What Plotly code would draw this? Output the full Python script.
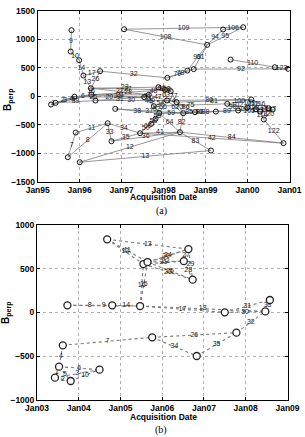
import pandas as pd
import plotly.graph_objects as go

# ---------------- panel (a) data ----------------
a_dates = ["1995-04-27", "1995-06-06", "1995-09-20", "1995-10-15", "1995-10-22",
           "1995-11-28", "1995-12-28", "1996-01-02", "1996-02-03", "1996-04-08",
           "1996-04-12", "1996-05-18", "1996-06-27", "1996-09-01", "1996-10-04",
           "1996-11-06", "1997-01-22", "1997-06-10", "1997-07-16", "1997-08-25",
           "1997-09-16", "1997-10-08", "1997-10-23", "1997-11-17", "1997-11-24",
           "1998-01-12", "1998-01-30", "1998-02-03", "1998-03-04", "1998-04-24",
           "1998-05-23", "1998-06-21", "1998-07-27", "1998-09-20", "1999-01-15",
           "1999-02-17", "1999-06-03", "1999-07-09", "1999-08-07", "1999-10-12",
           "1999-11-25", "2000-02-03", "2000-03-14", "2000-04-20", "2000-05-23",
           "2000-07-02", "2000-08-26", "2000-11-10", "2000-12-20", "1999-12-31",
           "2000-08-08", "1998-10-01", "1999-04-01", "1995-11-17"]
a_bperp = [-146, -117, -1070, 784, 1158, -637, 632, -1158, 363, 140,
           25, -76, 439, -474, -790, -222, 1175, -649, -17, 25,
           -484, -175, -396, 158, -298, 112, -75, 322, 88, -105,
           -631, -298, 450, 475, 900, -953, 1170, -134, 643, -251,
           1210, -58, -230, -270, -409, -210, 508, -824, 480, -200,
           -235, -280, -270, -10]

a_from = [4, 3, 6, 8, 8, 12, 9, 10, 12, 16, 16, 34, 34, 36, 33, 32, 33, 38, 46, 27, 27, 23, 25,
          2, 2, 5, 13, 13, 14, 14, 17, 7, 7, 17, 30, 30, 30, 30, 44, 17, 17,
          0, 0, 1, 0, 1, 53, 1,
          10, 10, 9, 11, 9, 10, 11, 53, 9,
          15, 15,
          18, 19, 21, 22, 20, 21, 24, 26, 25, 23, 28, 24, 26, 29, 18, 19, 19,
          29, 31, 51, 52, 29, 31, 37, 37, 39, 49, 41, 49, 42, 43, 42, 45, 43, 41, 44, 39, 37,
          26, 24, 21]
a_to = [3, 6, 8, 12, 9, 9, 10, 11, 27, 34, 40, 36, 40, 40, 34, 34, 48, 46, 48, 32, 33, 28, 28,
        5, 13, 13, 14, 17, 17, 30, 30, 30, 35, 47, 47, 35, 31, 24, 47, 22, 20,
        1, 10, 10, 53, 53, 10, 11,
        18, 19, 19, 18, 23, 25, 26, 18, 25,
        31, 24,
        21, 26, 24, 24, 22, 26, 26, 29, 26, 25, 29, 31, 31, 31, 19, 23, 21,
        41, 51, 52, 39, 51, 52, 41, 39, 49, 41, 42, 42, 43, 44, 45, 50, 50, 45, 50, 43, 49,
        41, 39, 37]
a_label = ["9", "10", "14", "17", "13", "26", "16", "25", "32", "108", "109", "94", "95", "106",
           "61", "93", "92", "110", "123", "79", "78", "128", "69",
           "7", "8", "11", "33", "34", "35", "36", "41", "12", "13", "42", "84", "83", "82",
           "64", "122", "60", "50",
           "1", "4", "5", "2", "3", "6", "39",
           "21", "24", "22", "31", "23", "28", "30", "20", "27",
           "37", "38",
           "45", "47", "52", "55", "58", "54", "56", "74", "63", "66", "77", "59", "62", "73",
           "44", "48", "46",
           "81", "85", "88", "89", "86", "87", "100", "99", "101", "103", "112", "104", "113",
           "114", "115", "117", "118", "116", "120", "105", "102",
           "80", "76", "75"]

# ---------------- panel (b) data ----------------
b_dates = ["2003-09-24", "2004-10-20", "2005-06-21", "2004-09-06", "2005-07-20",
           "2005-08-25", "2006-08-18", "2006-07-09", "2006-09-24", "2005-10-05",
           "2003-08-15", "2003-07-13", "2003-06-07", "2003-10-23", "2004-07-01",
           "2006-10-30", "2007-10-12", "2007-07-02", "2008-06-21", "2008-07-31"]
b_bperp = [80, 80, 72, 833, 551, 574, 722, 585, 373, -285,
           -376, -620, -745, -783, -654, -498, -232, 0, 11, 141]

b_from = [10, 11, 11, 12, 12, 11, 13, 10, 0, 0, 1, 2, 2, 3, 3, 3, 4, 5, 4, 5, 6, 6, 7, 4, 5,
          2, 2, 17, 17, 18, 16, 9, 9, 15]
b_to = [11, 12, 13, 13, 14, 14, 14, 9, 1, 2, 2, 4, 5, 4, 5, 6, 6, 6, 7, 7, 7, 8, 8, 8, 8,
        17, 18, 18, 19, 19, 18, 16, 15, 16]
b_label = ["4", "1", "5", "2", "3", "6", "10", "7", "8", "9", "14", "16", "15", "12", "11", "13",
           "20", "24", "21", "22", "27", "29", "28", "23", "25",
           "17", "18", "30", "31", "33", "32", "26", "34", "35"]

W, H = 305, 437
FONT = "Liberation Sans"


def edges(dates, vals, f, t):
    d = pd.to_datetime(pd.Series(dates))
    xs, ys, mx, my = [], [], [], []
    for i, j in zip(f, t):
        xs += [d[i], d[j], None]
        ys += [vals[i], vals[j], None]
        mx.append(d[i] + (d[j] - d[i]) / 2)
        my.append((vals[i] + vals[j]) / 2)
    return d, xs, ys, mx, my


fig = go.Figure()

# panel a
d, xs, ys, mx, my = edges(a_dates, a_bperp, a_from, a_to)
fig.add_trace(go.Scatter(x=xs, y=ys, mode="lines", line=dict(color="#7c7c7c", width=0.8),
                         xaxis="x", yaxis="y", showlegend=False, hoverinfo="skip"))
fig.add_trace(go.Scatter(x=mx, y=my, mode="text", text=a_label,
                         textfont=dict(family=FONT, size=7, color="#222222"),
                         xaxis="x", yaxis="y", showlegend=False))
fig.add_trace(go.Scatter(x=d, y=a_bperp, mode="markers",
                         marker=dict(symbol="circle-open", size=5, color="#111111", line=dict(width=1)),
                         xaxis="x", yaxis="y", showlegend=False))

# panel b
d, xs, ys, mx, my = edges(b_dates, b_bperp, b_from, b_to)
fig.add_trace(go.Scatter(x=xs, y=ys, mode="lines", line=dict(color="#7a7a7a", width=1.1, dash="dot"),
                         xaxis="x2", yaxis="y2", showlegend=False, hoverinfo="skip"))
fig.add_trace(go.Scatter(x=mx, y=my, mode="text", text=b_label,
                         textfont=dict(family=FONT, size=7, color="#222222"),
                         xaxis="x2", yaxis="y2", showlegend=False))
fig.add_trace(go.Scatter(x=d, y=b_bperp, mode="markers",
                         marker=dict(symbol="circle", size=7, color="white",
                                     line=dict(width=1.3, color="#222222")),
                         xaxis="x2", yaxis="y2", showlegend=False))

tickfont = dict(family=FONT, size=8.5, color="black", weight="bold")
axcommon = dict(showline=True, linecolor="black", linewidth=1, mirror="ticks",
                ticks="inside", ticklen=3, tickcolor="black", tickfont=tickfont,
                showgrid=True, gridcolor="#b0b0b0", griddash="dot", gridwidth=0.8,
                zeroline=False, automargin=False, tickangle=0)

fig.update_layout(
    template="none",
    width=W, height=H, margin=dict(l=0, r=0, t=0, b=0, pad=0),
    plot_bgcolor="white", paper_bgcolor="white",
    xaxis=dict(domain=[37.7 / W, 289.5 / W], anchor="y", type="date",
               range=["1995-01-01", "2001-01-01"], dtick="M12", tick0="1995-01-01",
               tickformat="%b%y", **axcommon),
    yaxis=dict(domain=[(H - 181.7) / H, (H - 10.7) / H], anchor="x",
               range=[-1500, 1500], dtick=500, **axcommon),
    xaxis2=dict(domain=[37 / W, 287.5 / W], anchor="y2", type="date",
                range=["2003-01-01", "2009-01-01"], dtick="M12", tick0="2003-01-01",
                tickformat="%b%y", **axcommon),
    yaxis2=dict(domain=[(H - 400) / H, (H - 224.7) / H], anchor="x2",
                range=[-1000, 1000], dtick=500, **axcommon),
)

titlefont = dict(family=FONT, size=8.5, color="black", weight="bold")
capfont = dict(family="Liberation Serif", size=10, color="black")


def ann(text, x, y, font, angle=0):
    fig.add_annotation(text=text, x=x / W, y=1 - y / H, xref="paper", yref="paper",
                       showarrow=False, font=font, textangle=angle,
                       xanchor="center", yanchor="middle")


ann("Acquisition Date", 163, 197, titlefont)
ann("(a)", 161, 211, capfont)
ann("B<sub>perp</sub>", 8, 100, dict(family=FONT, size=10, color="black", weight="bold"), -90)
ann("Acquisition Date", 163, 417, titlefont)
ann("(b)", 161, 429.5, capfont)
ann("B<sub>perp</sub>", 6, 313, dict(family=FONT, size=10, color="black", weight="bold"), -90)

fig.write_html("out.html")
